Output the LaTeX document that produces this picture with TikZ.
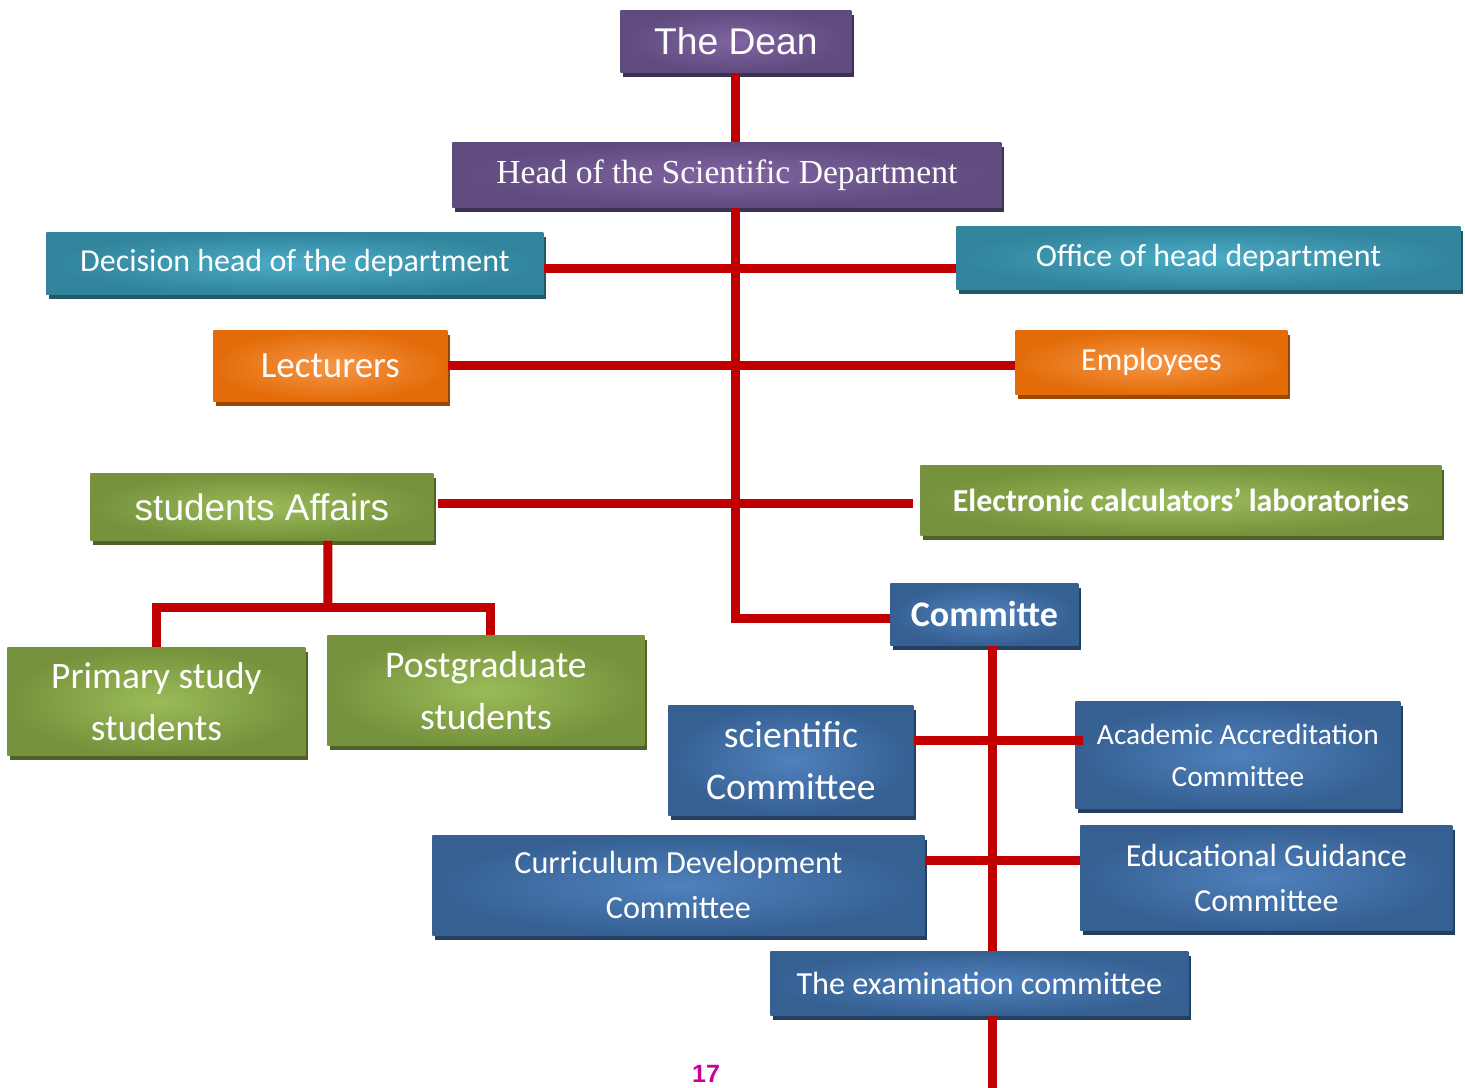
\documentclass[tikz,border=0pt]{standalone}
\usepackage{fontspec}
\setmainfont{Carlito}
\newfontfamily\arialfont{Liberation Sans}
\newfontfamily\cambriafont{Liberation Serif}
\usetikzlibrary{shadows}

\definecolor{purpleout}{HTML}{5F4B7E}
\definecolor{purplein}{HTML}{8064A2}
\definecolor{purpleshade}{HTML}{3F3151}
\definecolor{tealout}{HTML}{31849B}
\definecolor{tealin}{HTML}{4BACC6}
\definecolor{tealshade}{HTML}{215968}
\definecolor{orangeout}{HTML}{E36C09}
\definecolor{orangein}{HTML}{F79646}
\definecolor{orangeshade}{HTML}{984807}
\definecolor{greenout}{HTML}{76923C}
\definecolor{greenin}{HTML}{9BBB59}
\definecolor{greenshade}{HTML}{4F6228}
\definecolor{blueout}{HTML}{366092}
\definecolor{bluein}{HTML}{4F81BD}
\definecolor{blueshade}{HTML}{244061}
\definecolor{linkred}{HTML}{C00000}
\definecolor{pagenum}{HTML}{CC0099}

\tikzset{
  unit/.style={rectangle, inner sep=0pt, anchor=north west, align=center, text=white},
  purplebox/.style={unit, inner color=purplein, outer color=purpleout,
    drop shadow={shadow xshift=1.5pt, shadow yshift=-2.5pt, opacity=1, fill=purpleshade}},
  tealbox/.style={unit, inner color=tealin, outer color=tealout,
    drop shadow={shadow xshift=1.5pt, shadow yshift=-2.5pt, opacity=1, fill=tealshade}},
  orangebox/.style={unit, inner color=orangein, outer color=orangeout,
    drop shadow={shadow xshift=1.5pt, shadow yshift=-2.5pt, opacity=1, fill=orangeshade}},
  greenbox/.style={unit, inner color=greenin, outer color=greenout,
    drop shadow={shadow xshift=1.5pt, shadow yshift=-2.5pt, opacity=1, fill=greenshade}},
  bluebox/.style={unit, inner color=bluein, outer color=blueout,
    drop shadow={shadow xshift=1.5pt, shadow yshift=-2.5pt, opacity=1, fill=blueshade}},
  link/.style={draw=linkred, line width=4.5pt}
}

\begin{document}
\begin{tikzpicture}[x=0.5pt, y=-0.5pt]
  \useasboundingbox (0,0) rectangle (1465,1087);

  % top of the chart
  \node[purplebox, minimum width=115.5pt, minimum height=31pt,
    font=\arialfont\fontsize{18.6}{20}\selectfont] (dean) at (620,10) {The Dean};
  \node[purplebox, minimum width=274.5pt, minimum height=32.5pt,
    font=\cambriafont\fontsize{16.8}{18}\selectfont] (head) at (452,142) {Head of the Scientific Department};

  % offices and staff
  \node[tealbox, minimum width=248.5pt, minimum height=31pt,
    font=\fontsize{16}{18}\selectfont] (dec) at (46,232) {Decision head of the department};
  \node[tealbox, minimum width=252pt, minimum height=31.5pt,
    font=\fontsize{16}{18}\selectfont] (office) at (956,226) {Office of head department};
  \node[orangebox, minimum width=117pt, minimum height=35.5pt,
    font=\fontsize{18.5}{20}\selectfont] (lect) at (213,330) {Lecturers};
  \node[orangebox, minimum width=136pt, minimum height=32pt,
    font=\fontsize{16}{18}\selectfont] (emp) at (1015,330) {Employees};

  % students and laboratories
  \node[greenbox, minimum width=171.5pt, minimum height=33.5pt,
    font=\arialfont\fontsize{18.5}{20}\selectfont] (aff) at (90,473) {students Affairs};
  \node[greenbox, minimum width=260.5pt, minimum height=35pt,
    font=\bfseries\fontsize{16}{18}\selectfont] (elec) at (920,465) {Electronic calculators’ laboratories};
  \node[greenbox, minimum width=149pt, minimum height=54pt,
    font=\fontsize{18.7}{26}\selectfont] (prim) at (7,647) {Primary study\\students};
  \node[greenbox, minimum width=158.5pt, minimum height=55pt,
    font=\fontsize{18.8}{26}\selectfont] (post) at (327,635) {Postgraduate\\students};

  % committees
  \node[bluebox, minimum width=94pt, minimum height=31pt,
    font=\bfseries\fontsize{18}{20}\selectfont] (comm) at (890,583) {Committe};
  \node[bluebox, minimum width=122.5pt, minimum height=55pt,
    font=\fontsize{18.8}{26}\selectfont] (sci) at (668,705) {scientific\\Committee};
  \node[bluebox, minimum width=162.5pt, minimum height=53.5pt,
    font=\fontsize{14.7}{21}\selectfont] (acad) at (1075,701) {Academic Accreditation\\Committee};
  \node[bluebox, minimum width=246pt, minimum height=50pt,
    font=\fontsize{16.1}{22.5}\selectfont] (curr) at (432,835) {Curriculum Development\\Committee};
  \node[bluebox, minimum width=186pt, minimum height=52.5pt,
    font=\fontsize{16}{22.5}\selectfont] (edu) at (1080,825) {Educational Guidance\\Committee};
  \node[bluebox, minimum width=209pt, minimum height=32pt,
    font=\fontsize{16.1}{18}\selectfont] (exam) at (770,951) {The examination committee};

  % page number
  \node[font=\arialfont\bfseries\fontsize{12.5}{13}\selectfont, text=pagenum] (page) at (706,1074) {17};

  % red connectors
  \coordinate (split) at (328,607);
  \coordinate (cspine) at ([xshift=4pt]comm.south);
  \coordinate (bottom) at (992,1090);
  \coordinate (row1) at (0,740);
  \coordinate (row2) at (0,860);

  \draw[link] (dean.south) -- (dean.south |- head.north);
  \draw[link] (dean.south |- head.south) |- ([yshift=-2pt]comm.west);
  \draw[link] ([yshift=-2.5pt]dec.east) -- ([yshift=-2.5pt]dec.east -| office.west);
  \draw[link] (lect.east) -- (lect.east -| emp.west);
  \draw[link, shorten <=2pt, shorten >=3.5pt] ([yshift=1.75pt]aff.east) -- ([yshift=1.75pt]aff.east -| elec.west);
  \draw[link] ([xshift=33pt]aff.south) -- (split);
  \draw[link] (prim.north) |- (split) -| ([xshift=2.25pt]post.north);
  \draw[link] (cspine) -- (cspine |- exam.north);
  \draw[link] (cspine |- exam.south) -- (cspine |- bottom);
  \draw[link] (sci.east |- row1) -- ([xshift=4pt]acad.west |- row1);
  \draw[link] (curr.east |- row2) -- (edu.west |- row2);
\end{tikzpicture}
\end{document}
